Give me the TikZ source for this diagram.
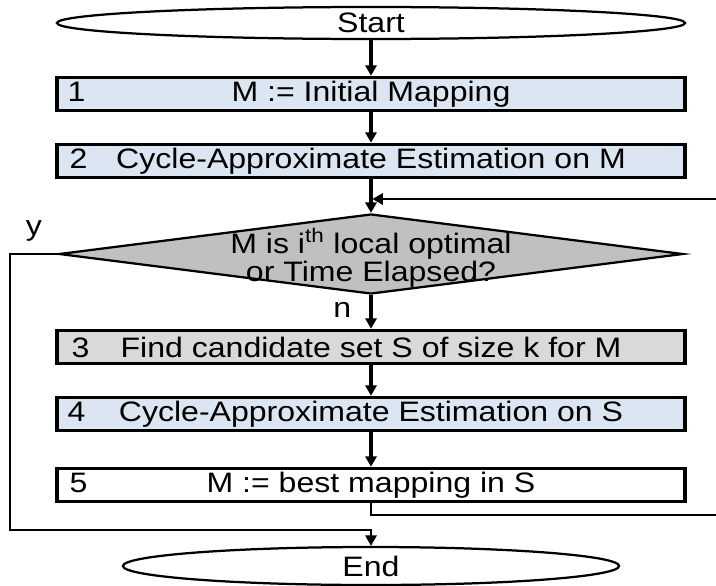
\documentclass[tikz,border=0pt]{standalone}
\usepackage{fontspec}
\setmainfont{Liberation Sans}[FakeStretch=1.14]
\usetikzlibrary{arrows.meta,shapes.geometric}
\definecolor{stepblue}{HTML}{DCE6F2}
\definecolor{stepgray}{HTML}{D9D9D9}
\definecolor{decgray}{HTML}{C0C0C0}
\tikzset{
  px/.style={x=0.025cm, y=-0.025cm},
  txt/.style={font=\fontsize{20}{20}\selectfont, inner sep=0pt},
  term/.style={ellipse, draw, line width=1.6pt, fill=white, txt,
    minimum width=15.7cm, minimum height=0.8cm},
  stepbox/.style={rectangle, draw, line width=2.4pt, txt,
    minimum width=15.7cm, minimum height=0.83cm},
  stepnum/.style={txt, anchor=base west},
  decision/.style={diamond, draw, line width=1.6pt, fill=decgray, inner sep=0pt,
    minimum width=15.6cm, minimum height=2cm},
  flow/.style={line width=2.4pt, -{Triangle[length=2.6mm,width=2.8mm]}},
  loopflow/.style={line width=1.5pt, -{Triangle[length=2.6mm,width=2.8mm]}},
}
\begin{document}
\begin{tikzpicture}[px]
  \useasboundingbox (0,0) rectangle (716,585);
  % terminals
  \node[term] (start) at (371,23) {Start};
  \node[term, minimum width=12.4cm, minimum height=0.95cm] (end) at (371,566) {End};
  % steps
  \node[stepbox, fill=stepblue] (s1) at (371,94) {M := Initial Mapping};
  \node[stepnum, xshift=0.3cm] (n1) at (s1.base -| s1.west) {1};
  \node[stepbox, fill=stepblue] (s2) at (371,161) {Cycle-Approximate Estimation on M};
  \node[stepnum, xshift=0.35cm] (n2) at (s2.base -| s2.west) {2};
  \node[decision] (dec) at (371,254) {};
  \node[txt, align=center] (dectxt) at (371,258) {M is i\textsuperscript{th} local optimal\\or Time Elapsed?};
  \node[stepbox, fill=stepgray] (s3) at (371,347) {Find candidate set S of size k for M};
  \node[stepnum, xshift=0.4cm] (n3) at (s3.base -| s3.west) {3};
  \node[stepbox, fill=stepblue] (s4) at (371,414) {Cycle-Approximate Estimation on S};
  \node[stepnum, xshift=0.3cm] (n4) at (s4.base -| s4.west) {4};
  \node[stepbox, fill=white] (s5) at (371,485) {M := best mapping in S};
  \node[stepnum, xshift=0.35cm] (n5) at (s5.base -| s5.west) {5};
  % main flow
  \draw[flow] (start) -- (s1);
  \draw[flow] (s1) -- (s2);
  \draw[flow] (s2) -- (dec);
  \draw[flow] (dec) -- node[txt, left=0.45cm, pos=0.45] (nlbl) {n} (s3);
  \draw[flow] (s3) -- (s4);
  \draw[flow] (s4) -- (s5);
  % exit branch
  \coordinate (yesL) at (10,530);
  \draw[loopflow] (dec.west) -- node[txt, above=0.3cm] (ylbl) {y} (dec.west -| yesL)
    -- (yesL) -| (end.north);
  % back to the test
  \coordinate (fbR) at (730,515);
  \coordinate (fbJ) at (371,199);
  \draw[loopflow, shorten >=1pt] (s5.south) |- (fbR) |- (fbJ);
\end{tikzpicture}
\end{document}
